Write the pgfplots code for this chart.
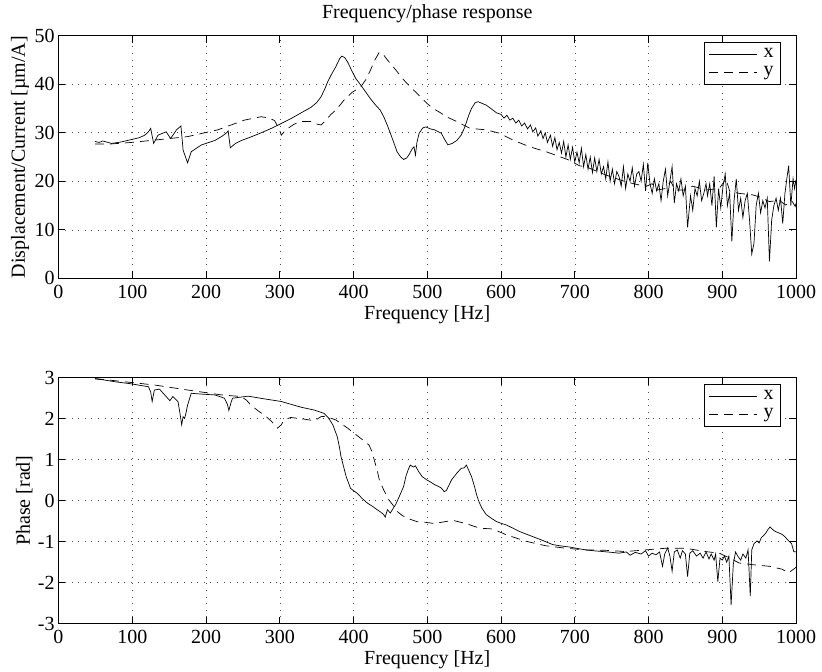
\documentclass[border=0pt]{standalone}
\usepackage{fontspec}
\setmainfont{Liberation Serif}
\usepackage{pgfplots}
\pgfplotsset{compat=1.18}
\begin{document}
\fontsize{20bp}{24bp}\selectfont
\begin{tikzpicture}
\useasboundingbox (-58.5bp,35.7bp) rectangle (763.5bp,-636.3bp);
\pgfplotsset{
 every axis/.append style={
  scale only axis, width=737.5bp,
  xmin=0, xmax=1000, xtick={0,100,...,1000},
  grid=major,
  major grid style={black!70, line width=0.5bp, dash pattern=on 0.8bp off 5.8bp},
  tick align=inside, major tick length=7bp,
  axis line style={line width=0.8bp},
  every tick/.style={black, line width=0.6bp},
  font=\fontsize{20bp}{24bp}\selectfont,
  /pgf/number format/assume math mode=true,
  /pgf/number format/1000 sep={},
  xlabel={Frequency [Hz]},
  xlabel style={yshift=7bp},
  yticklabel style={xshift=3bp},
  ylabel shift=-8bp,
  legend style={at={(1,1)}, anchor=north east, xshift=-15bp, yshift=-6bp, draw=black, line width=0.8bp, inner xsep=5bp, inner ysep=4bp, row sep=2bp, column sep=4bp, nodes={inner sep=2bp}, font=\fontsize{20bp}{24bp}\selectfont},
  legend cell align=left,
  legend image code/.code={\draw[#1] (0bp,0bp) -- (48bp,0bp);},
 }
}
\begin{axis}[name=top, at={(0,0)}, anchor=north west, height=242.6bp,
  ymin=0, ymax=50, ytick={0,10,...,50},
  ylabel={Displacement/Current [µm/A]},
  title={Frequency/phase response}]
\addplot[black, line width=0.7bp] coordinates {
(49.5,28.2) (55,28.0) (60,28.3) (72,27.8) (85,28.1) (99,28.6) (110,29.0) (117,29.5) (122,30.2) (125,30.9) (129,27.8) (135,29.5) (146,30.2) (152,28.8) (160,30.6) (166,31.4) (169,26.4) (175,23.8) (180,26.1) (194,27.5) (212,28.4) (222,29.3) (228,30.0) (230,30.4) (233,26.9) (240,27.8) (248,28.4) (262,29.2) (275,30.0) (290,31.0) (302,31.9) (315,32.9) (329,34.1) (342,35.2) (350,36.2) (356,37.4) (361,39.0) (365,40.5) (370,42.0) (376,43.6) (381,45.2) (384,45.8) (388,45.5) (392,44.6) (397,43.0) (403,41.2) (410,39.8) (416,38.5) (423,37.0) (430,35.7) (436,34.7) (441,33.3) (446,31.5) (450,29.9) (455,27.8) (459,26.1) (464,25.0) (468,24.5) (472,24.8) (475,25.4) (480,26.8) (482,27.1) (484,25.4) (486,28.0) (489,29.9) (494,31.0) (498,31.2) (504,30.8) (510,30.6) (515,30.2) (519,29.9) (524,28.5) (528,27.5) (534,27.8) (540,28.4) (546,29.5) (551,31.2) (556,33.5) (560,35.0) (565,36.2) (569,36.4) (575,36.0) (580,35.7) (587,34.9) (594,34.1)
(600,33.8) (604,33.0) (608,33.6) (612,32.6) (616,33.0) (620,32.0) (624,32.6) (628,31.4) (632,32.0) (636,30.8) (640,31.6) (643,30.2) (647,31.0) (650,29.3) (654,30.4) (657,28.8) (660,30.0) (663,28.0) (667,29.5) (670,27.2) (673,29.0) (676,26.5) (679,28.0) (682,25.8) (685,28.2) (688,25.0) (691,27.5) (694,24.5) (697,27.0) (700,24.0) (703,26.0) (706,23.8) (709,26.8) (712,23.0) (715,25.5) (718,22.5) (721,25.0) (724,21.8) (727,24.8) (730,22.0) (733,24.5) (736,21.5) (739,23.0) (742,20.5) (745,24.0) (748,20.0) (751,22.5) (754,19.5) (757,22.0) (760,21.0) (763,19.0) (766,23.0) (769,18.5) (772,21.5) (775,20.0) (778,22.8) (781,19.0) (784,21.5) (787,22.0) (790,20.0) (793,23.5) (796,18.0) (799,23.8) (802,19.5) (805,17.5) (808,20.5) (811,18.0) (814,19.5) (817,16.0) (820,20.0) (823,22.5) (826,17.0) (829,20.0) (832,23.0) (835,15.5) (838,19.5) (841,18.0) (844,20.5) (847,17.0) (850,19.0) (853,10.5) (857,17.0) (860,14.0) (863,18.5) (866,17.0) (869,20.0) (872,16.0) (875,17.5) (878,19.5)
(880,17.0) (883,19.5) (886,15.0) (889,21.0) (892,10.5) (895,18.5) (898,14.5) (901,19.0) (904,21.5) (907,15.0) (910,17.5) (913,7.6) (916,16.0) (919,20.5) (922,14.0) (925,16.5) (928,12.5) (931,16.0) (934,17.5) (937,12.0) (940,5.0) (943,7.2) (946,15.0) (949,17.5) (952,13.5) (955,16.0) (958,14.5) (961,16.5) (964,3.5) (967,12.0) (970,15.0) (973,16.5) (976,14.0) (979,16.5) (982,11.3) (985,17.5) (988,21.0) (990,23.2) (993,15.0) (996,20.5) (998,18.5) (1000,20.3)
};
\addlegendentry{x}
\addplot[black, line width=0.7bp, dash pattern=on 9bp off 6bp] coordinates {
(49.5,27.7) (72,27.7) (99,28.0) (131,28.5) (175,29.2) (216,30.6) (252,32.6) (265,33.0) (275,33.3) (286,33.0) (293,32.5) (300,30.5) (302,29.5) (306,30.2) (311,30.9) (320,31.8) (329,32.3) (342,32.3) (350,31.8) (356,31.6) (362,32.5) (369,33.7) (378,35.0) (387,36.7) (398,38.3) (410,39.5) (417,41.0) (423,42.9) (429,45.0) (435,46.6) (440,46.2) (446,45.0) (457,43.0) (468,40.9) (480,39.0) (491,37.4) (500,36.0) (508,35.0) (517,34.2) (526,33.3) (540,32.3) (558,30.9) (580,30.6) (598,29.9) (616,28.5) (639,27.1) (661,26.1) (679,25.1) (690,24.5) (697,24.0) (706,23.2) (715,23.0) (742,21.3) (769,19.9) (780,19.5) (796,18.9) (805,19.5) (812,18.2) (823,18.5) (830,20.0) (836,18.2) (850,18.2) (860,19.0) (878,18.2) (896,18.5) (905,20.5) (910,18.0) (923,17.5) (941,17.2) (950,16.8) (964,15.8) (977,16.1) (986,15.1) (995,15.8) (999,14.8) (1000,15.5)
};
\addlegendentry{y}
\end{axis}
\begin{axis}[name=bot, at={(0,-342bp)}, anchor=north west, height=246bp,
  ymin=-3, ymax=3, ytick={-3,-2,...,3},
  ylabel={Phase [rad]}]
\addplot[black, line width=0.7bp] coordinates {
(49.5,2.97) (60,2.95) (77,2.90) (99,2.85) (115,2.80) (122,2.78) (125,2.65) (127,2.42) (130,2.70) (137,2.72) (144,2.58) (148,2.50) (151,2.44) (155,2.54) (162,2.42) (165,2.10) (167,1.85) (169,2.05) (171,2.01) (173,2.15) (175,2.33) (180,2.62) (194,2.60) (212,2.58) (225,2.50) (229,2.35) (231,2.20) (234,2.40) (236,2.50) (257,2.55) (284,2.47) (302,2.42) (329,2.28) (347,2.21) (360,2.13) (366,2.02) (372,1.85) (378,1.56) (381,1.30) (383,1.08) (387,0.80) (390,0.59) (396,0.30) (405,0.18) (412,0.05) (419,-0.06) (426,-0.14) (432,-0.22) (437,-0.28) (441,-0.34) (443,-0.40) (446,-0.22) (450,-0.30) (454,-0.18) (457,-0.10) (464,0.18) (468,0.35) (471,0.59) (474,0.75) (477,0.87) (481,0.82) (484,0.85) (488,0.72) (493,0.59) (499,0.51) (505,0.45) (510,0.39) (515,0.35) (519,0.31) (523,0.22) (526,0.25) (530,0.40) (533,0.51) (537,0.60) (540,0.67) (546,0.79) (550,0.80) (553,0.87) (556,0.75) (560,0.59) (564,0.35) (567,0.14) (570,-0.02) (574,-0.18) (580,-0.34) (587,-0.43) (594,-0.51) (600,-0.55) (607,-0.59) (615,-0.66) (625,-0.75) (635,-0.82) (648,-0.91) (658,-0.98) (670,-1.07) (680,-1.10) (693,-1.13) (705,-1.17) (715,-1.20) (725,-1.22) (738,-1.24) (750,-1.26) (760,-1.28) (770,-1.25) (775,-1.33) (782,-1.26) (790,-1.30) (796,-1.22) (800,-1.35) (805,-1.28) (810,-1.32) (815,-1.25) (819,-1.60) (822,-1.30) (826,-1.15) (829,-1.35) (832,-1.72) (835,-1.25) (839,-1.20) (843,-1.40) (846,-1.22) (850,-1.30) (853,-1.85) (856,-1.28) (860,-1.22) (865,-1.35) (870,-1.28) (874,-1.40) (878,-1.25) (882,-1.42) (885,-1.30) (889,-1.45) (891,-1.30) (894,-1.97) (897,-1.40) (900,-1.45) (903,-1.35) (906,-1.50) (909,-1.35) (912,-2.54) (915,-1.55) (918,-1.25) (921,-1.35) (925,-1.45) (928,-1.30) (932,-1.40) (935,-1.20) (938,-2.33) (940,-1.20) (943,-1.05) (947,-0.98) (950,-1.03) (953,-0.90) (956,-0.85) (959,-0.79) (962,-0.70) (965,-0.64) (968,-0.70) (972,-0.75) (976,-0.78) (981,-0.82) (985,-0.88) (990,-0.98) (994,-1.05) (997,-1.24) (1000,-1.25)
};
\addlegendentry{x}
\addplot[black, line width=0.7bp, dash pattern=on 9bp off 6bp] coordinates {
(49.5,2.98) (131,2.82) (175,2.70) (221,2.58) (248,2.54) (255,2.45) (261,2.33) (270,2.20) (279,2.09) (288,1.95) (297,1.77) (302,1.85) (306,1.97) (315,2.03) (333,1.99) (347,1.95) (356,2.05) (362,2.06) (376,1.97) (392,1.77) (407,1.56) (421,1.36) (425,1.20) (428,1.00) (432,0.75) (435,0.51) (441,0.26) (448,0.02) (454,-0.12) (459,-0.26) (466,-0.36) (473,-0.43) (486,-0.51) (499,-0.53) (507,-0.55) (518,-0.53) (535,-0.48) (553,-0.56) (571,-0.67) (589,-0.69) (607,-0.83) (634,-0.99) (661,-1.10) (688,-1.16) (715,-1.20) (742,-1.21) (769,-1.24) (796,-1.20) (823,-1.16) (850,-1.16) (877,-1.24) (896,-1.28) (910,-1.40) (923,-1.52) (941,-1.56) (964,-1.60) (981,-1.67) (990,-1.76) (999,-1.64) (1000,-1.62)
};
\addlegendentry{y}
\end{axis}
\end{tikzpicture}
\end{document}
